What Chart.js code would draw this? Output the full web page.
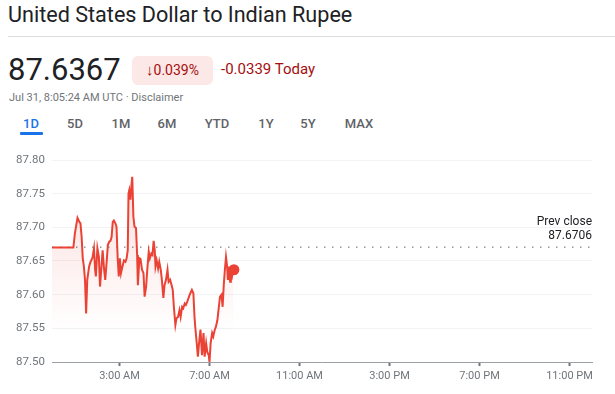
<!DOCTYPE html>
<html>
<head>
<meta charset="utf-8">
<script src="https://cdn.jsdelivr.net/npm/chart.js@4/dist/chart.umd.min.js"></script>
<style>
  body { margin: 0; background: #fff; font-family: Roboto, Arial, sans-serif; }
  #page { position: relative; width: 615px; height: 394px; overflow: hidden; }
  .abs { position: absolute; white-space: nowrap; }
  #title { left: 8px; top: 2px; font-size: 21.6px; color: #202124; }
  #rule { left: 8px; top: 36px; width: 607px; height: 1px; background: #dadce0; }
  #price { left: 8px; top: 51px; font-size: 31px; color: #202124; }
  #badge { left: 132px; top: 56px; width: 81px; height: 29px; border-radius: 6px; background: #fce8e6;
           color: #a50e0e; font-size: 14px; line-height: 29px; text-align: center; }
  #badge .arrow { font-size: 15px; }
  #change { left: 221px; top: 60px; font-size: 15px; color: #a50e0e; }
  #stamp { left: 9px; top: 91px; font-size: 11px; color: #70757a; }
  .tab { top: 116px; font-size: 13px; font-weight: 500; color: #5f6368; transform: translateX(-50%); }
  #underline { left: 20px; top: 132px; width: 23px; height: 2.5px; background: #1a73e8; border-radius: 1px; }
  #chartBox { position: absolute; left: 0; top: 145px; }
</style>
</head>
<body>
<div id="page">
  <div id="title" class="abs">United States Dollar to Indian Rupee</div>
  <div id="rule" class="abs"></div>
  <div id="price" class="abs">87.6367</div>
  <div id="badge" class="abs"><span class="arrow">↓</span>0.039%</div>
  <div id="change" class="abs">-0.0339 Today</div>
  <div id="stamp" class="abs">Jul 31, 8:05:24 AM UTC · Disclaimer</div>
  <div id="tabs"></div>
  <div id="underline" class="abs"></div>
  <div id="chartBox"><canvas id="rateChart" width="615" height="249"></canvas></div>
</div>
<script>
// minutes after midnight (UTC) and USD/INR rate
const minutes = [0, 57, 61, 68, 73, 76, 79, 82, 85, 88, 91, 94, 99, 103, 108, 112, 115, 117, 121, 125,
  128, 132, 135, 139, 142, 146, 149, 153, 156, 159, 162, 165, 169, 172, 175, 178, 181, 184, 188, 192,
  196, 199, 202, 204, 206, 209, 212, 214, 217, 220, 224, 227, 229, 233, 236, 240, 244, 247, 251, 254,
  258, 261, 265, 268, 271, 274, 276, 279, 283, 286, 290, 293, 297, 300, 304, 308, 311, 315, 319, 322,
  325, 329, 332, 336, 340, 343, 347, 350, 354, 357, 361, 364, 368, 373, 377, 380, 382, 386, 389, 393,
  396, 400, 404, 407, 411, 414, 418, 420, 423, 427, 430, 434, 437, 441, 444, 448, 452, 455, 458, 461,
  464, 467, 469, 472, 475, 477, 480, 483, 485];
const rates = [87.670, 87.670, 87.691, 87.714, 87.708, 87.706, 87.686, 87.654, 87.642, 87.622, 87.572, 87.622, 87.642, 87.649, 87.655, 87.669, 87.637, 87.627, 87.669, 87.656,
  87.612, 87.642, 87.666, 87.637, 87.622, 87.651, 87.674, 87.679, 87.680, 87.686, 87.708, 87.710, 87.706, 87.701, 87.656, 87.627, 87.654, 87.632, 87.642, 87.651,
  87.649, 87.654, 87.666, 87.750, 87.755, 87.741, 87.763, 87.775, 87.716, 87.701, 87.699, 87.659, 87.614, 87.654, 87.653, 87.637, 87.632, 87.597, 87.612, 87.637,
  87.664, 87.654, 87.661, 87.659, 87.680, 87.666, 87.642, 87.651, 87.639, 87.649, 87.637, 87.622, 87.595, 87.614, 87.622, 87.637, 87.619, 87.622, 87.614, 87.607,
  87.582, 87.555, 87.565, 87.567, 87.577, 87.567, 87.582, 87.580, 87.587, 87.585, 87.590, 87.595, 87.601, 87.607, 87.602, 87.567, 87.552, 87.528, 87.508, 87.533,
  87.548, 87.510, 87.543, 87.508, 87.528, 87.515, 87.510, 87.500, 87.528, 87.543, 87.538, 87.548, 87.552, 87.562, 87.577, 87.597, 87.600, 87.582, 87.614, 87.637,
  87.656, 87.642, 87.622, 87.632, 87.619, 87.632, 87.627, 87.637, 87.637];
const prevClose = 87.6706;

const yTicks = [87.50, 87.55, 87.60, 87.65, 87.70, 87.75, 87.80];
const tickMinutes = [180, 420, 660, 900, 1140, 1380];
const tickLabels = ['3:00 AM', '7:00 AM', '11:00 AM', '3:00 PM', '7:00 PM', '11:00 PM'];

const tabNames = ['1D', '5D', '1M', '6M', 'YTD', '1Y', '5Y', 'MAX'];
const tabCenters = [31, 75, 121, 167, 217, 266, 308, 359];

const tabs = document.getElementById('tabs');
tabNames.forEach((name, i) => {
    let el = document.createElement('div');
    el.className = 'abs tab';
    el.style.left = tabCenters[i] + 'px';
    el.textContent = name;
    if (i == 0) el.style.color = '#1a73e8';
    tabs.appendChild(el);
});

const red = '#ea4335';

// "Prev close" label on the right, above the dotted line
const prevCloseLabel = {
    id: 'prevCloseLabel',
    afterDatasetsDraw(chart) {
        const ctx = chart.ctx;
        const y = chart.scales.y.getPixelForValue(prevClose);
        ctx.save();
        ctx.font = '12px Roboto, Arial, sans-serif';
        ctx.fillStyle = '#202124';
        ctx.textAlign = 'right';
        ctx.textBaseline = 'middle';
        ctx.fillText('Prev close', chart.chartArea.right, y - 25);
        ctx.fillText(prevClose.toFixed(4), chart.chartArea.right, y - 11);
        ctx.restore();
    }
};

const canvas = document.getElementById('rateChart').getContext('2d');
const config = {
    type: 'line',
    data: {
        datasets: [
            {
                data: minutes.map((m, i) => ({ x: m, y: rates[i] })),
                borderColor: red,
                borderWidth: 2,
                tension: 0,
                fill: 'start',
                backgroundColor: (context) => {
                    const area = context.chart.chartArea;
                    if (!area) return 'rgba(234,67,53,0.1)';
                    let g = context.chart.ctx.createLinearGradient(0, area.top, 0, area.bottom);
                    g.addColorStop(0, 'rgba(234,67,53,0.2)');
                    g.addColorStop(0.45, 'rgba(234,67,53,0.09)');
                    g.addColorStop(0.85, 'rgba(234,67,53,0)');
                    return g;
                },
                pointRadius: (ctx) => ctx.dataIndex == minutes.length - 1 ? 4.5 : 0,
                pointBackgroundColor: red,
                pointBorderColor: red,
                pointHoverRadius: 0,
                order: 1
            },
            {
                data: [{ x: 0, y: prevClose }, { x: 1440, y: prevClose }],
                borderColor: '#5f6368',
                borderWidth: 1,
                borderDash: [1.5, 6.5],
                pointRadius: 0,
                fill: false,
                order: 2
            }
        ]
    },
    options: {
        responsive: false,
        animation: false,
        devicePixelRatio: 1,
        layout: { padding: { top: 15, right: 23, left: 0, bottom: 0 } },
        plugins: { legend: { display: false }, tooltip: { enabled: false } },
        scales: {
            x: {
                type: 'linear',
                min: 0,
                max: 1440,
                afterBuildTicks: (scale) => { scale.ticks = tickMinutes.map(v => ({ value: v })); },
                afterFit: (scale) => { scale.height = 32; },
                ticks: {
                    autoSkip: false,
                    maxRotation: 0,
                    padding: 4,
                    color: '#70757a',
                    font: { family: 'Roboto, Arial, sans-serif', size: 11 },
                    callback: (value) => tickLabels[tickMinutes.indexOf(value)]
                },
                grid: { drawOnChartArea: false, drawTicks: true, tickLength: 4, tickWidth: 2, tickColor: '#70757a' },
                border: { color: '#9aa0a6', width: 1 }
            },
            y: {
                min: 87.50,
                max: 87.80,
                afterBuildTicks: (scale) => { scale.ticks = yTicks.map(v => ({ value: v })); },
                afterFit: (scale) => { scale.width = 52; },
                ticks: {
                    padding: 7,
                    color: '#70757a',
                    font: { family: 'Roboto, Arial, sans-serif', size: 11.5 },
                    callback: (value) => value.toFixed(2)
                },
                grid: { color: '#f1f3f4', drawTicks: false },
                border: { display: false }
            }
        }
    },
    plugins: [prevCloseLabel]
};
var chart = new Chart(canvas, config);
</script>
</body>
</html>
